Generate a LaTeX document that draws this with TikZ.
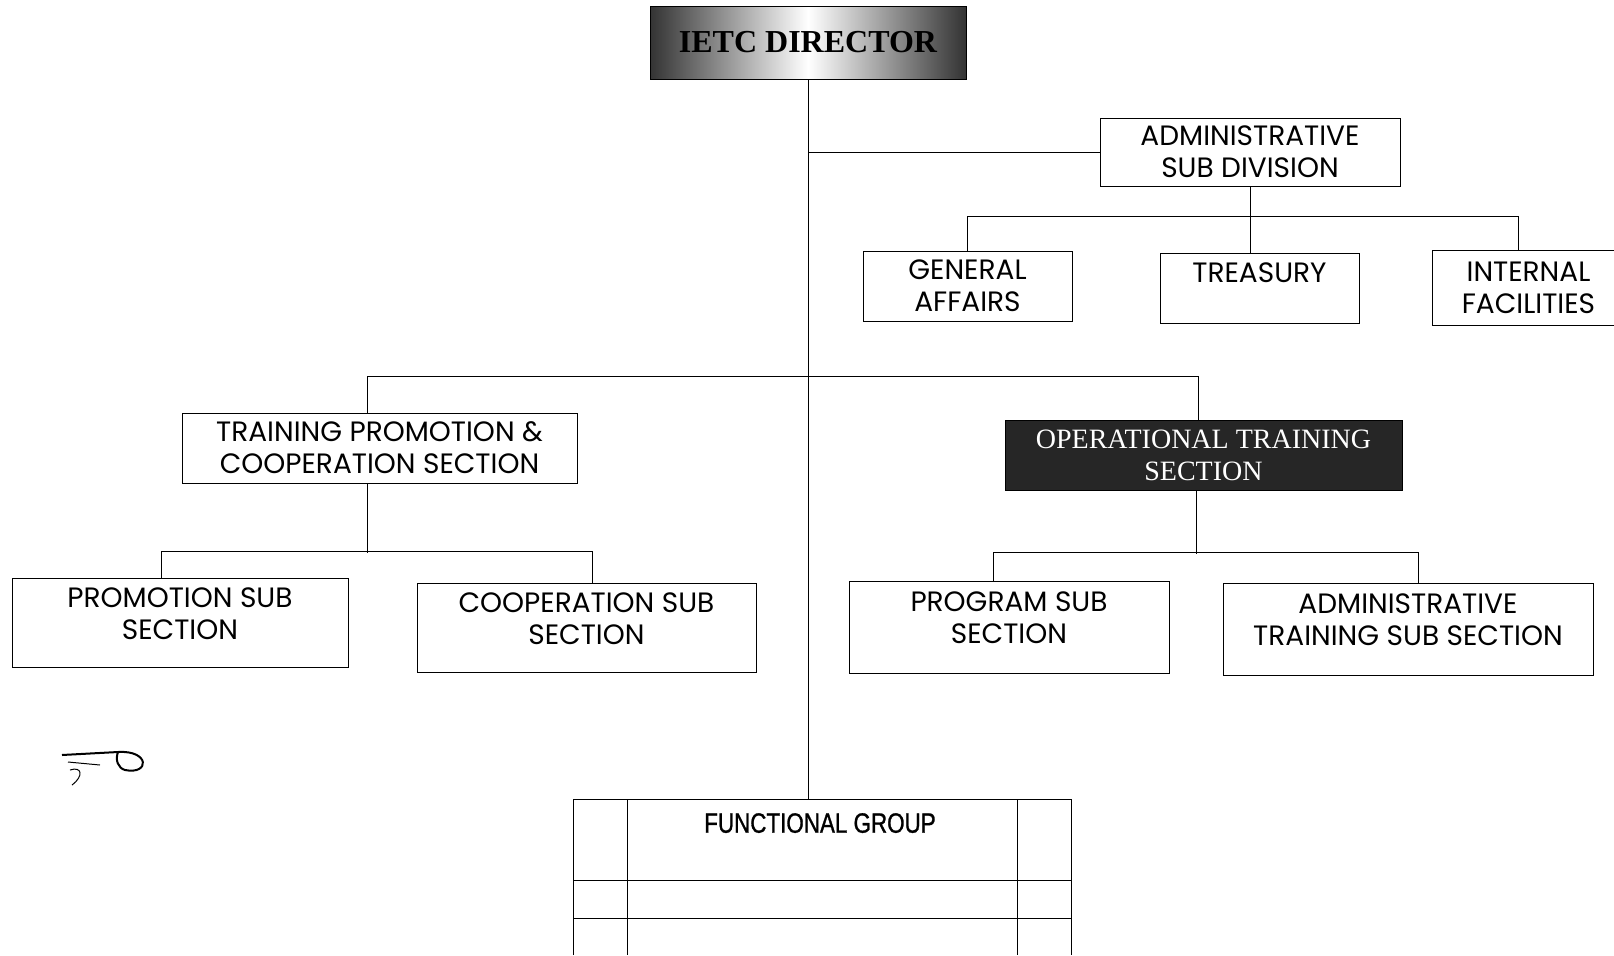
\documentclass[tikz,border=0pt]{standalone}
\usepackage{fontspec}
\setmainfont{Poppins}
\newfontfamily\dirfont{Liberation Serif}
\newfontfamily\narrowfont[FakeStretch=0.8,FakeBold=1]{Liberation Sans}
\usetikzlibrary{positioning}

\tikzset{
  unit/.style={draw, align=center, inner sep=2pt, font=\fontsize{14}{16}\selectfont},
  lowtext/.style={text depth=9pt},
  dirbox/.style={draw, inner sep=2pt, left color=black!80, right color=black!80, middle color=white, font=\dirfont\bfseries\fontsize{16}{18}\selectfont},
  opsbox/.style={draw, fill=black!85, text=white, align=center, inner sep=2pt, font=\dirfont\fontsize{14}{16}\selectfont},
}

\begin{document}
\begin{tikzpicture}[x=0.5pt,y=-0.5pt, line width=0.5pt]
\useasboundingbox (0,0) rectangle (1614,955);
% boxes
\node[dirbox, minimum width=158pt, minimum height=36.5pt](dir) at (808,42.5){IETC DIRECTOR};
\node[unit, minimum width=150pt, minimum height=34pt](adm) at (1250,152){ADMINISTRATIVE\\SUB DIVISION};
\node[unit, minimum width=104.5pt, minimum height=35pt](gen) at (967.5,286){GENERAL\\AFFAIRS};
\node[unit, minimum width=99.5pt, minimum height=35pt, text depth=15pt](tre) at (1259.5,288){TREASURY};
\node[unit, minimum width=96.5pt, minimum height=37.5pt](int) at (1528.5,287.5){INTERNAL\\FACILITIES};
\node[unit, minimum width=197.5pt, minimum height=35pt](tpc) at (379.5,448){TRAINING PROMOTION \&\\COOPERATION SECTION};
\node[opsbox, minimum width=198.5pt, minimum height=35pt](ots) at (1203.5,455){OPERATIONAL TRAINING\\SECTION};
\node[unit, lowtext, minimum width=168pt, minimum height=44.5pt](pro) at (180,622.5){PROMOTION SUB\\SECTION};
\node[unit, lowtext, minimum width=169.5pt, minimum height=44.5pt](coo) at (586.5,627.5){COOPERATION SUB\\SECTION};
\node[unit, lowtext, minimum width=160pt, minimum height=46pt](prg) at (1009,627){PROGRAM SUB\\SECTION};
\node[unit, lowtext, minimum width=185pt, minimum height=46pt](ats) at (1408,629){ADMINISTRATIVE\\TRAINING SUB SECTION};
% functional group table
\coordinate (fgtop) at (808,799);
\node[anchor=north, font=\narrowfont\fontsize{14}{16}\selectfont](fg) at (820,806){FUNCTIONAL GROUP};
\draw (573,955) -- (573,799) -- (1071,799) -- (1071,955);
\draw (627,799) -- (627,955);
\draw (1017,799) -- (1017,955);
\draw (573,880) -- (1071,880);
\draw (573,918) -- (1071,918);
% connectors
\draw (dir.south) -- (fgtop);
\draw (dir.south |- adm.west) -- (adm.west);
\draw (adm.south) -- (adm.south |- tre.north);
\draw (gen.north) -- ++(0,-34) -| ([xshift=-5pt]int.north);
\draw ([xshift=-6.25pt]tpc.north) -- ++(0,-36) -| ([xshift=-2.75pt]ots.north);
\draw ([xshift=-6.25pt]tpc.south) -- ++(0,69);
\draw ([xshift=-9.5pt]pro.north) -- ++(0,-26) -| ([xshift=2.75pt]coo.north);
\draw ([xshift=-3.75pt]ots.south) -- ++(0,63);
\draw ([xshift=-8pt]prg.north) -- ++(0,-28) -| ([xshift=5pt]ats.north);
% signature
\draw[line width=1pt] (62,755) -- (118,752) .. controls (150,750) and (150,775) .. (125,770) .. controls (118,768) and (115,760) .. (118,752);
\draw (68,762) -- (100,765);
\draw (70,770) .. controls (82,766) and (84,776) .. (72,785);
\end{tikzpicture}
\end{document}
